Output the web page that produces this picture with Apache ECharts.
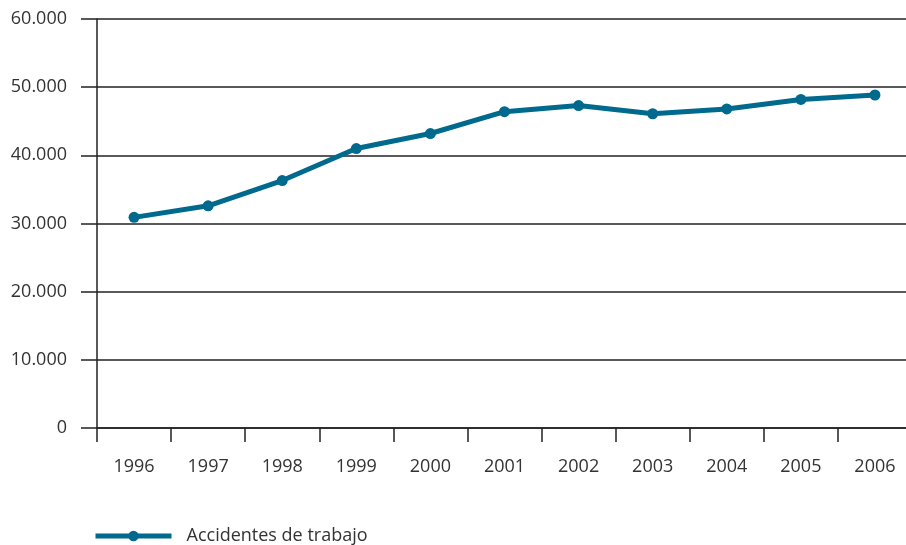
<!DOCTYPE html>
<html>
<head>
<meta charset="utf-8">
<script src="https://cdn.jsdelivr.net/npm/echarts@6/dist/echarts.min.js"></script>
<style>
  html, body { margin: 0; padding: 0; background: #fff; }
  #ch { width: 906px; height: 545px; }
</style>
</head>
<body>
<div id="ch"></div>
<script>
var years = ['1996', '1997', '1998', '1999', '2000', '2001', '2002', '2003', '2004', '2005', '2006'];
var accidentes = [30900, 32600, 36300, 41000, 43200, 46400, 47300, 46100, 46800, 48200, 48850];
var seriesName = 'Accidentes de trabajo';

var lineColor = '#006a8e';
var axisColor = '#222';
var textFont = 'Open Sans';

function thousands(v) {
    return String(v).replace(/\B(?=(\d{3})+(?!\d))/g, '.');
}

var chart = echarts.init(document.getElementById('ch'));
var option = {
    animation: false,
    grid: {
        left: 97,
        width: 815,
        top: 19,
        bottom: 117,
        outerBoundsMode: 'none'
    },
    legend: {
        data: [seriesName],
        left: 93,
        top: 527,
        padding: 0,
        itemWidth: 76,
        itemHeight: 13,
        lineStyle: { width: 5 },
        textStyle: {
            fontFamily: textFont,
            fontSize: 18,
            color: '#333',
            padding: [0, 0, 0, 10]
        }
    },
    xAxis: {
        type: 'category',
        data: years,
        boundaryGap: true,
        axisLine: { lineStyle: { color: axisColor, width: 1.5 } },
        axisTick: { show: true, length: 14, lineStyle: { color: axisColor, width: 1.5 } },
        axisLabel: {
            margin: 30,
            fontFamily: textFont,
            fontSize: 18,
            color: '#333'
        },
        splitLine: { show: false }
    },
    yAxis: {
        type: 'value',
        min: 0,
        max: 60000,
        interval: 10000,
        axisLine: { show: true, lineStyle: { color: axisColor, width: 1.5 } },
        axisTick: { show: true, length: 16, lineStyle: { color: axisColor, width: 1.5 } },
        axisLabel: {
            margin: 30,
            fontFamily: textFont,
            fontSize: 18,
            color: '#333',
            formatter: thousands
        },
        splitLine: { show: true, lineStyle: { color: axisColor, width: 1.5 } }
    },
    series: [{
        name: seriesName,
        type: 'line',
        data: accidentes,
        color: lineColor,
        symbol: 'circle',
        symbolSize: 11,
        lineStyle: { width: 5, color: lineColor },
        itemStyle: { color: lineColor }
    }]
};
chart.setOption(option);
</script>
</body>
</html>
